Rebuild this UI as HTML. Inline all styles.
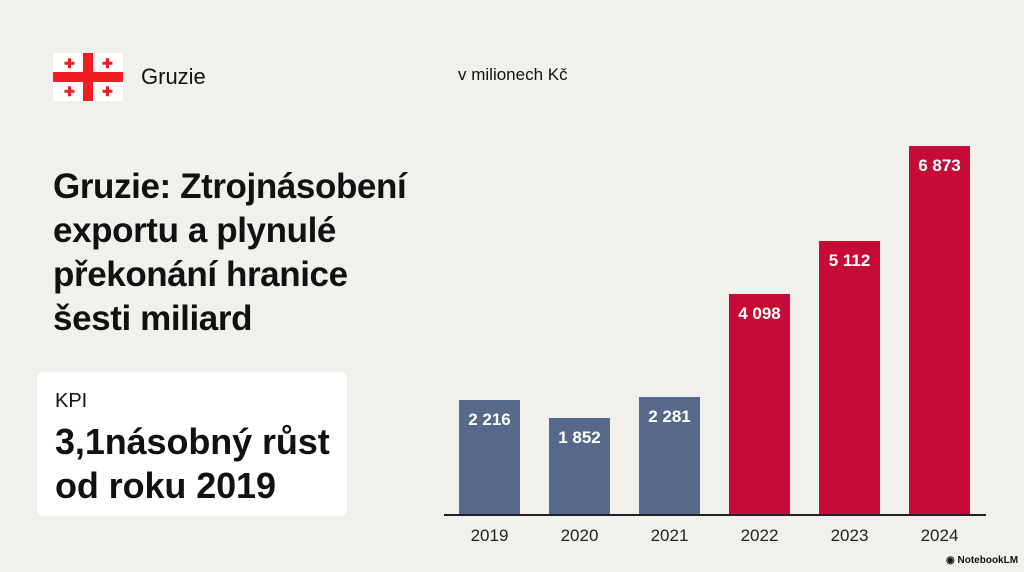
<!DOCTYPE html>
<html><head><meta charset="utf-8"><style>
body{margin:0;width:1024px;height:572px;background:#f1f0ec;font-family:"Liberation Sans",sans-serif;position:relative;overflow:hidden;color:#111}
.a{position:absolute}
.bar{position:absolute;width:61px;bottom:58px}
.b{background:#56698a}.r{background:#c70b36}
.v{position:absolute;left:0;width:61px;text-align:center;color:#fff;font-size:17px;font-weight:bold;top:10px}
.y{position:absolute;top:526px;width:61px;text-align:center;font-size:17px;color:#222}
</style></head><body>
<div class="a" style="left:53px;top:53px;width:70px;height:48px;background:#fff">
<div class="a" style="left:30px;top:0;width:10px;height:48px;background:#f01d23"></div>
<div class="a" style="left:0;top:19px;width:70px;height:10px;background:#f01d23"></div>
<div class="a" style="left:11px;top:4px;color:#f01d23;font-size:13px;font-weight:bold;line-height:13px">✚</div>
<div class="a" style="left:49px;top:4px;color:#f01d23;font-size:13px;font-weight:bold;line-height:13px">✚</div>
<div class="a" style="left:11px;top:32px;color:#f01d23;font-size:13px;font-weight:bold;line-height:13px">✚</div>
<div class="a" style="left:49px;top:32px;color:#f01d23;font-size:13px;font-weight:bold;line-height:13px">✚</div>
</div>
<div class="a" style="left:141px;top:64px;font-size:22px">Gruzie</div>
<div class="a" style="left:458px;top:65px;font-size:17px">v milionech Kč</div>
<div class="a" style="left:53px;top:165px;font-size:35px;font-weight:bold;line-height:44px;letter-spacing:-0.4px">Gruzie: Ztrojnásobení<br>exportu a plynulé<br>překonání hranice<br>šesti miliard</div>
<div class="a" style="left:37px;top:372px;width:310px;height:144px;background:#fff;border-radius:6px"></div>
<div class="a" style="left:55px;top:390px;font-size:20px">KPI</div>
<div class="a" style="left:55px;top:420px;font-size:36px;font-weight:bold;line-height:44px;letter-spacing:-0.1px">3,1násobný růst<br>od roku 2019</div>
<div class="bar b" style="left:459px;height:114px"><div class="v">2 216</div></div>
<div class="bar b" style="left:549px;height:96px"><div class="v">1 852</div></div>
<div class="bar b" style="left:639px;height:117px"><div class="v">2 281</div></div>
<div class="bar r" style="left:729px;height:220px"><div class="v">4 098</div></div>
<div class="bar r" style="left:819px;height:273px"><div class="v">5 112</div></div>
<div class="bar r" style="left:909px;height:368px"><div class="v">6 873</div></div>
<div class="a" style="left:444px;top:514px;width:542px;height:2px;background:#222"></div>
<div class="y" style="left:459px">2019</div><div class="y" style="left:549px">2020</div><div class="y" style="left:639px">2021</div>
<div class="y" style="left:729px">2022</div><div class="y" style="left:819px">2023</div><div class="y" style="left:909px">2024</div>
<div class="a" style="left:946px;top:555px;font-size:10px;font-weight:bold">◉ NotebookLM</div>
</body></html>
